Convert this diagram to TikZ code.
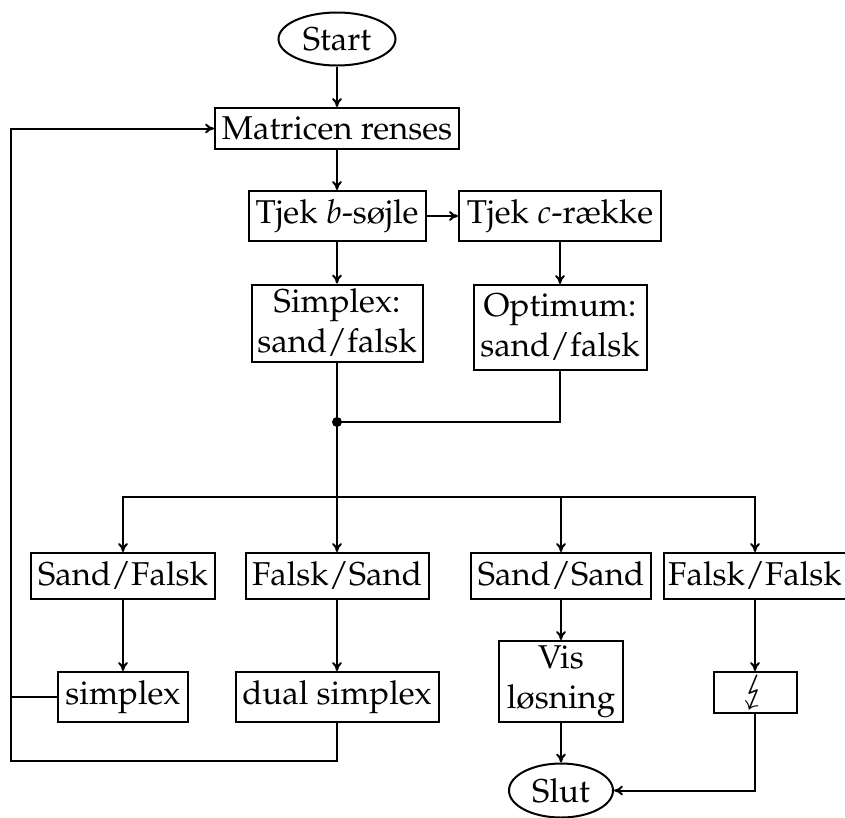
\documentclass[tikz,border=0pt]{standalone}
\usepackage[T1]{fontenc}
\usepackage{mathpazo}
\usepackage{stmaryrd}
\usetikzlibrary{shapes.geometric,arrows.meta}
\begin{document}
\begin{tikzpicture}[x=1pt,y=-1pt,
  every node/.style={font=\fontsize{33}{40}\selectfont, inner sep=0pt, align=center, line width=2pt},
  box/.style={draw, rectangle},
  term/.style={draw, ellipse},
  conn/.style={line width=2pt},
  arr/.style={conn, -{To[length=9pt,width=10pt]}}]
\useasboundingbox (0,0) rectangle (845,817);
\node[term, minimum width=117pt, minimum height=53pt] (start) at (337,39) {Start};
\node[box, minimum width=244pt, minimum height=41pt] (mat) at (337,128.5) {Matricen renses};
\node[box, minimum width=177pt, minimum height=50pt] (tb) at (337,216) {Tjek $b$-s\o jle};
\node[box, minimum width=202pt, minimum height=50pt] (tc) at (560,216) {Tjek $c$-r\ae kke};
\node[box, minimum width=171pt, minimum height=77pt] (sim) at (337,323) {Simplex:\\sand/falsk};
\node[box, minimum width=173pt, minimum height=85pt] (opt) at (560,327.5) {Optimum:\\sand/falsk};
\node[box, minimum width=184pt, minimum height=46pt] (sf) at (123,576) {Sand/Falsk};
\node[box, minimum width=183pt, minimum height=46pt] (fs) at (337,576) {Falsk/Sand};
\node[box, minimum width=180pt, minimum height=46pt] (ss) at (561,576) {Sand/Sand};
\node[box, minimum width=182pt, minimum height=46pt] (ff) at (755,576) {Falsk/Falsk};
\node[box, minimum width=130pt, minimum height=50pt] (smp) at (123,697) {simplex};
\node[box, minimum width=203pt, minimum height=50pt] (dual) at (337,697) {dual simplex};
\node[box, minimum width=124pt, minimum height=81pt] (vis) at (561,681.5) {Vis\\l\o sning};
\node[box, minimum width=83pt, minimum height=41pt] (lt) at (755,692.5) {\scalebox{1.6}{$\lightning$}};
\node[term, minimum width=104pt, minimum height=54pt] (slut) at (561,790.5) {Slut};
\coordinate (j) at (337,422);
\coordinate (jb) at (337,497);
\coordinate (lb) at (11,761);
\fill (j) circle (5pt);
\draw[arr] (start) -- (mat);
\draw[arr] (mat) -- (tb);
\draw[arr] (tb) -- (tc);
\draw[arr] (tb) -- (sim);
\draw[arr] (tc) -- (opt);
\draw[conn] (sim.south) -- (j);
\draw[conn] (opt.south) |- (j);
\draw[conn] (j) -- (jb);
\draw[arr] (jb) -- (fs.north);
\draw[arr] (jb) -| (sf.north);
\draw[arr] (jb) -| (ss.north);
\draw[arr] (jb) -| (ff.north);
\draw[arr] (sf) -- (smp);
\draw[arr] (fs) -- (dual);
\draw[arr] (ss) -- (vis);
\draw[arr] (ff) -- (lt);
\draw[arr] (vis) -- (slut);
\draw[arr] (lt.south) |- (slut.east);
\draw[arr] (dual.south) |- (lb) |- (mat.west);
\draw[conn] (smp.west) -- (smp.west -| lb);
\end{tikzpicture}
\end{document}
